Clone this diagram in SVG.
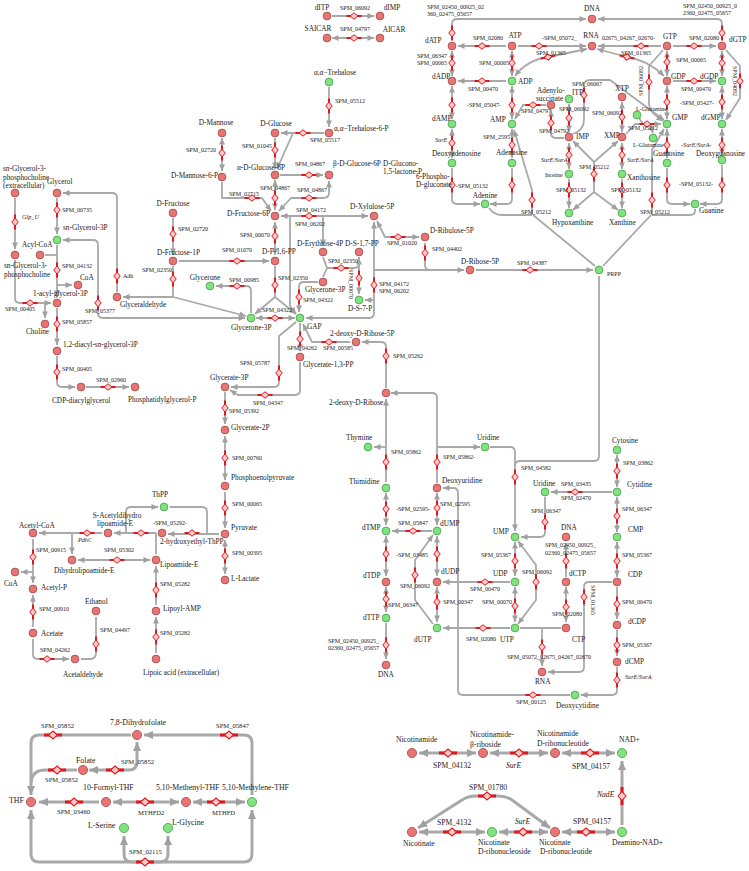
<svg xmlns="http://www.w3.org/2000/svg" width="749" height="871" viewBox="0 0 749 871">
<style>
.e{fill:none;stroke:#a9a9a9;stroke-width:1.8;stroke-linejoin:round}
.E{fill:none;stroke:#a9a9a9;stroke-width:3;stroke-linejoin:round}
.x{marker-end:url(#a)}
.xx{marker-start:url(#a);marker-end:url(#a)}
.X{marker-end:url(#A)}
.XX{marker-start:url(#A);marker-end:url(#A)}
.r{fill:#ea7474;stroke:#9c4a4a;stroke-width:.8}
.g{fill:#7fe37f;stroke:#4a9c4a;stroke-width:.8}
text{font-family:"Liberation Serif","Times New Roman",serif;fill:#1a1a1a}
.n{font-size:7.3px}
.s{font-size:6px}
.i{font-size:6.2px;font-style:italic}
.b{font-size:7.8px}
.bs{font-size:6.6px}
.c{font-size:7.6px}
</style>
<defs>
<marker id="a" viewBox="0 0 10 10" refX="10" refY="5" markerWidth="7" markerHeight="6.5" markerUnits="userSpaceOnUse" orient="auto-start-reverse"><path d="M0,0.5L10,5L0,9.5z" fill="#a0a0a0"/></marker>
<marker id="A" viewBox="0 0 10 10" refX="10" refY="5" markerWidth="10" markerHeight="9" markerUnits="userSpaceOnUse" orient="auto-start-reverse"><path d="M0,0.5L10,5L0,9.5z" fill="#a0a0a0"/></marker>
<g id="dh"><path d="M-7.5,0H7.5" stroke="#e3161c" stroke-width="2"/><path d="M0,-3.2L4,0L0,3.2L-4,0Z" fill="#f7caca" stroke="#e3161c" stroke-width="1"/></g>
<g id="dv"><path d="M0,-7.5V7.5" stroke="#e3161c" stroke-width="2"/><path d="M-3.2,0L0,-4L3.2,0L0,4Z" fill="#f7caca" stroke="#e3161c" stroke-width="1"/></g>
<g id="DH"><path d="M-9,0H9" stroke="#e3161c" stroke-width="3"/><path d="M0,-4L4.5,0L0,4L-4.5,0Z" fill="#f7caca" stroke="#e3161c" stroke-width="1.1"/></g>
<g id="DV"><path d="M0,-9V9" stroke="#e3161c" stroke-width="3"/><path d="M-4,0L0,-4.5L4,0L0,4.5Z" fill="#f7caca" stroke="#e3161c" stroke-width="1.1"/></g>
</defs>
<rect width="749" height="871" fill="#fff"/>

<g id="connectors">
<path class="e x" d="M332,16H374"/>
<path class="e xx" d="M332,38H374"/>
<path class="e x" d="M329,87V127"/>
<path class="e x" d="M324,133H281"/>
<path class="e x" d="M293,133L277,169"/>
<path class="e x" d="M275,138V169"/>
<path class="e xx" d="M222,138V171"/>
<path class="e x" d="M222,182V198H262L271,211"/>
<path class="e x" d="M280,175H323"/>
<path class="e xx" d="M275,180V210"/>
<path class="e xx" d="M329,181V193Q329,198 323,198H291L279,211"/>
<path class="e xx" d="M281,216H368"/>
<path class="e x" d="M290,216V306L296,314"/>
<path class="e x" d="M323,216V246"/>
<path class="e xx" d="M275,222V255"/>
<path class="e x" d="M173,218V255"/>
<path class="e x" d="M179,261H269"/>
<path class="e" d="M173,266V297"/>
<path class="e x" d="M173,297H123"/>
<path class="e x" d="M173,297L246,316"/>
<path class="e" d="M275,266V297"/>
<path class="e x" d="M275,297L255,314"/>
<path class="e x" d="M275,297L296,314"/>
<path class="e xx" d="M256,318H295"/>
<path class="e x" d="M251,313V291Q251,286 246,286H216"/>
<path class="e xx" d="M63,240H93Q98,240 98,245V313Q98,318 103,318H245"/>
<path class="e x" d="M117,292V198Q117,193 112,193H63"/>
<path class="e x" d="M57,198V234"/>
<path class="e x" d="M15,198V249"/>
<path class="e x" d="M57,245V297"/>
<path class="e" d="M45,255H57"/>
<path class="e x" d="M57,285H72"/>
<path class="e x" d="M15,260V298Q15,303 20,303H51"/>
<path class="e x" d="M45,303V318"/>
<path class="e x" d="M57,308V345"/>
<path class="e x" d="M57,356V382Q57,387 62,387H75"/>
<path class="e x" d="M86,387H129"/>
<path class="e" d="M323,257L327,268M323,277L327,268"/>
<path class="e x" d="M327,268H354Q359,268 359,263V258"/>
<path class="e x" d="M359,257V294"/>
<path class="e xx" d="M374,222V313Q374,318 369,318H306"/>
<path class="e x" d="M374,300H365"/>
<path class="e x" d="M374,270H464"/>
<path class="e xx" d="M377,221L385,237H419"/>
<path class="e" d="M425,243V265Q425,270 430,270"/>
<path class="e x" d="M476,270H593"/>
<path class="e x" d="M318,282H304Q299,282 299,287V312"/>
<path class="e x" d="M300,323V351"/>
<path class="e x" d="M300,362V390Q300,395 295,395H238L230,390"/>
<path class="e x" d="M296,322L279,336V382Q279,387 274,387H231"/>
<path class="e x" d="M225,392V424"/>
<path class="e xx" d="M225,436V480"/>
<path class="e x" d="M225,492V528"/>
<path class="e xx" d="M225,540V574"/>
<path class="e x" d="M219,534H168"/>
<path class="e" d="M207,534V512Q207,507 202,507H170"/>
<path class="e x" d="M126,533V512Q126,507 131,507H158"/>
<path class="e x" d="M156,533H114"/>
<path class="e" d="M156,554V533"/>
<path class="e x" d="M102,533H39"/>
<path class="e x" d="M72,533V554"/>
<path class="e xx" d="M78,560H150"/>
<path class="e x" d="M156,605V566"/>
<path class="e x" d="M156,653V617"/>
<path class="e x" d="M33,539V583"/>
<path class="e x" d="M33,572H21"/>
<path class="e x" d="M33,627V595"/>
<path class="e x" d="M33,639V654Q33,659 38,659H69"/>
<path class="e" d="M96,617V653Q96,659 90,659H81"/>
<path class="e x" d="M452,40V24Q452,19 457,19H586"/>
<path class="e x" d="M722,40V24Q722,19 717,19H598"/>
<path class="e x" d="M506,46H458"/>
<path class="e x" d="M518,46H586"/>
<path class="e x" d="M661,46H598"/>
<path class="e x" d="M673,46H716"/>
<path class="e xx" d="M515,76Q527,60 548,57L587,49"/>
<path class="e xx" d="M597,49L627,57Q648,60 664,76"/>
<path class="e xx" d="M452,51V76"/>
<path class="e xx" d="M512,51V76"/>
<path class="e xx" d="M667,51V76"/>
<path class="e xx" d="M722,51V76"/>
<path class="e x" d="M506,81H458"/>
<path class="e x" d="M673,81H716"/>
<path class="e xx" d="M452,86V119"/>
<path class="e xx" d="M512,86V119"/>
<path class="e xx" d="M667,86V119"/>
<path class="e xx" d="M722,86V119"/>
<path class="e x" d="M726,50L740,66V98L726,120"/>
<path class="e x" d="M663,50L649,66V104Q649,112 663,121"/>
<path class="e x" d="M546,105H523L515,119"/>
<path class="e x" d="M564,138H556Q551,138 551,133V110"/>
<path class="e xx" d="M569,104V132"/>
<path class="e x" d="M573,134Q584,130 584,120V86Q584,80 590,80H610L664,120"/>
<path class="e xx" d="M622,102V132"/>
<path class="e x" d="M626,134L635,124H661"/>
<path class="e" d="M639,118L643,124"/>
<path class="e x" d="M650,124L653,133"/>
<path class="e xx" d="M569,143V169"/>
<path class="e x" d="M569,179V208"/>
<path class="e xx" d="M622,143V169"/>
<path class="e x" d="M622,179V208"/>
<path class="e xx" d="M667,129V158"/>
<path class="e xx" d="M722,129V155"/>
<path class="e x" d="M667,168V199Q667,204 672,204H690"/>
<path class="e x" d="M722,165V199Q722,204 717,204H700"/>
<path class="e" d="M603,266L651,215"/>
<path class="e" d="M695,209V211Q695,215 690,215H652"/>
<path class="e x" d="M652,215V150L664,129"/>
<path class="e" d="M595,266L533,215"/>
<path class="e" d="M489,208Q494,215 502,215H532"/>
<path class="e x" d="M532,215V190L514,130"/>
<path class="e x" d="M512,168V199Q512,204 507,204H490"/>
<path class="e x" d="M452,168V199Q452,204 457,204H480"/>
<path class="e xx" d="M452,129V158"/>
<path class="e xx" d="M512,129V158"/>
<path class="e x" d="M594,162L573,141"/>
<path class="e x" d="M594,162L618,141"/>
<path class="e" d="M594,162V192"/>
<path class="e x" d="M594,192L573,210"/>
<path class="e x" d="M594,192L618,210"/>
<path class="e" d="M599,276V456Q599,461 594,461H520Q515,461 515,466"/>
<path class="e x" d="M490,447H510Q515,447 515,452V531"/>
<path class="e x" d="M437,447H480"/>
<path class="e x" d="M437,483V398Q437,393 432,393H391"/>
<path class="e x" d="M386,482V399"/>
<path class="e x" d="M386,447H374"/>
<path class="e x" d="M386,388V347Q386,342 381,342H362"/>
<path class="e x" d="M350,342H312L303,324"/>
<path class="e xx" d="M386,493V525"/>
<path class="e xx" d="M437,493V525"/>
<path class="e x" d="M432,531H392"/>
<path class="e xx" d="M386,536V576"/>
<path class="e xx" d="M437,536V576"/>
<path class="e xx" d="M386,587V612"/>
<path class="e xx" d="M437,587V622"/>
<path class="e x" d="M433,624L415,600V560L433,535"/>
<path class="e x" d="M386,623V659"/>
<path class="e x" d="M510,582H443"/>
<path class="e x" d="M510,628H443"/>
<path class="e xx" d="M515,542V576"/>
<path class="e xx" d="M515,587V622"/>
<path class="e xx" d="M518,541L536,565V600L518,624"/>
<path class="e x" d="M545,497V532Q545,537 540,537H521"/>
<path class="e x" d="M612,492H551"/>
<path class="e xx" d="M617,455V487"/>
<path class="e xx" d="M617,497V532"/>
<path class="e xx" d="M617,542V577"/>
<path class="e x" d="M617,587V619"/>
<path class="e x" d="M617,630V656"/>
<path class="e x" d="M617,667V690Q617,695 612,695H581"/>
<path class="e x" d="M570,695H463Q458,695 458,690V493Q458,488 453,488H443"/>
<path class="e x" d="M612,582H589Q584,582 584,587V667Q584,672 579,672H548"/>
<path class="e x" d="M566,577V543"/>
<path class="e xx" d="M566,587V622"/>
<path class="e" d="M520,628H561"/>
<path class="e x" d="M542,628V666"/>
<path class="E X" d="M131,735H39Q31,735 31,743V795"/>
<path class="E X" d="M252,795V743Q252,735 244,735H144"/>
<path class="E XX" d="M137,742V762Q137,770 129,770H89"/>
<path class="E" d="M77,770H45Q32,770 31,783"/>
<path class="E X" d="M99,802H39"/>
<path class="E XX" d="M113,802H179"/>
<path class="E XX" d="M193,802H245"/>
<path class="E X" d="M145,862H39Q31,862 31,854V810"/>
<path class="E X" d="M145,862H244Q252,862 252,854V810"/>
<path class="E X" d="M140,862H132Q124,862 124,854V836"/>
<path class="E X" d="M150,862H160Q168,862 168,854V836"/>
<path class="E XX" d="M419,753H476"/>
<path class="E XX" d="M490,753H548"/>
<path class="E XX" d="M562,753H615"/>
<path class="E X" d="M622,825V761"/>
<path class="E XX" d="M419,832H485"/>
<path class="E XX" d="M499,832H548"/>
<path class="E XX" d="M562,832H615"/>
<path class="E XX" d="M418,828L462,800Q468,796 476,796H498Q506,796 512,800L550,828"/>
</g>

<g id="reactions">
<use href="#dh" x="354" y="16"/><use href="#dh" x="354" y="38"/><use href="#dv" x="329" y="106"/><use href="#dh" x="303" y="133"/>
<use href="#dv" x="275" y="150"/><use href="#dv" x="222" y="153"/><use href="#dh" x="252" y="198"/><use href="#dh" x="309" y="175"/>
<use href="#dv" x="275" y="198"/><use href="#dh" x="309" y="198"/><use href="#dh" x="309" y="216"/><use href="#dv" x="275" y="236"/>
<use href="#dv" x="173" y="234"/><use href="#dh" x="237" y="261"/><use href="#dv" x="173" y="279"/><use href="#dv" x="275" y="285"/>
<use href="#dh" x="275" y="318"/><use href="#dh" x="237" y="286"/><use href="#dv" x="98" y="303"/><use href="#dv" x="117" y="276"/>
<use href="#dv" x="57" y="210"/><use href="#dv" x="15" y="222"/><use href="#dv" x="57" y="270"/><use href="#dh" x="30" y="303"/>
<use href="#dv" x="57" y="324"/><use href="#dv" x="57" y="372"/><use href="#dh" x="108" y="387"/>
<use href="#dh" x="341" y="268"/><use href="#dv" x="359" y="278"/><use href="#dv" x="374" y="285"/><use href="#dh" x="398" y="237"/>
<use href="#dv" x="425" y="253"/><use href="#dh" x="530" y="270"/><use href="#dv" x="299" y="297"/><use href="#dv" x="300" y="339"/>
<use href="#dh" x="265" y="395"/><use href="#dv" x="279" y="373"/><use href="#dv" x="225" y="408"/><use href="#dv" x="225" y="458"/>
<use href="#dv" x="225" y="508"/><use href="#dv" x="225" y="556"/><use href="#dh" x="192" y="533"/><use href="#dh" x="141" y="533"/>
<use href="#dh" x="87" y="533"/><use href="#dh" x="117" y="560"/><use href="#dv" x="156" y="590"/><use href="#dv" x="156" y="637"/>
<use href="#dv" x="33" y="557"/><use href="#dv" x="33" y="612"/><use href="#dh" x="47" y="659"/><use href="#dv" x="96" y="644"/>
<use href="#dv" x="452" y="33"/><use href="#dv" x="722" y="33"/><use href="#dh" x="482" y="46"/><use href="#dh" x="539" y="46"/>
<use href="#dh" x="641" y="46"/><use href="#dh" x="694" y="46"/>
<use href="#dh" transform="translate(548,57) rotate(-12)"/><use href="#dh" transform="translate(627,57) rotate(12)"/>
<use href="#dv" x="452" y="63"/><use href="#dv" x="512" y="63"/><use href="#dv" x="667" y="62"/><use href="#dv" x="722" y="63"/>
<use href="#dh" x="482" y="81"/><use href="#dh" x="694" y="81"/><use href="#dv" x="452" y="105"/><use href="#dv" x="512" y="105"/>
<use href="#dv" x="667" y="102"/><use href="#dv" x="722" y="102"/><use href="#dv" x="740" y="81"/><use href="#dv" x="649" y="82"/>
<use href="#dh" x="533" y="105"/><use href="#dv" x="551" y="123"/><use href="#dv" x="569" y="118"/><use href="#dv" x="584" y="95"/>
<use href="#dv" x="622" y="117"/><use href="#dh" x="647" y="124"/><use href="#dv" x="569" y="155"/><use href="#dv" x="569" y="190"/>
<use href="#dv" x="622" y="155"/><use href="#dv" x="622" y="190"/><use href="#dv" x="667" y="145"/><use href="#dv" x="722" y="145"/>
<use href="#dv" x="667" y="185"/><use href="#dv" x="722" y="185"/><use href="#dv" x="652" y="200"/><use href="#dv" x="532" y="200"/>
<use href="#dv" x="512" y="185"/><use href="#dv" x="452" y="185"/><use href="#dv" x="452" y="143"/><use href="#dv" x="512" y="145"/>
<use href="#dv" x="594" y="174"/>
<use href="#dv" x="515" y="477"/><use href="#dv" x="437" y="462"/><use href="#dv" x="386" y="462"/><use href="#dv" x="386" y="356"/>
<use href="#dh" x="329" y="342"/><use href="#dv" x="386" y="509"/><use href="#dv" x="437" y="508"/><use href="#dh" x="413" y="531"/>
<use href="#dv" x="386" y="554"/><use href="#dv" x="437" y="554"/><use href="#dv" x="386" y="599"/><use href="#dv" x="437" y="602"/>
<use href="#dv" x="415" y="575"/><use href="#dv" x="386" y="645"/><use href="#dh" x="485" y="582"/><use href="#dh" x="483" y="628"/>
<use href="#dv" x="515" y="561"/><use href="#dv" x="515" y="606"/><use href="#dv" x="536" y="582"/><use href="#dv" x="545" y="522"/>
<use href="#dh" x="575" y="492"/><use href="#dv" x="617" y="471"/><use href="#dv" x="617" y="516"/><use href="#dv" x="617" y="561"/>
<use href="#dv" x="617" y="604"/><use href="#dv" x="617" y="645"/><use href="#dv" x="617" y="680"/><use href="#dh" x="533" y="695"/>
<use href="#dv" x="584" y="597"/><use href="#dv" x="566" y="561"/><use href="#dv" x="566" y="607"/><use href="#dv" x="542" y="647"/>
<use href="#DH" x="53" y="735"/><use href="#DH" x="229" y="735"/><use href="#DH" x="115" y="770"/><use href="#DH" x="57" y="770"/>
<use href="#DH" x="74" y="802"/><use href="#DH" x="145" y="802"/><use href="#DH" x="216" y="802"/><use href="#DH" x="145" y="862"/>
<use href="#DH" x="448" y="753"/><use href="#DH" x="519" y="753"/><use href="#DH" x="590" y="753"/><use href="#DV" x="622" y="796"/>
<use href="#DH" x="452" y="832"/><use href="#DH" x="523" y="832"/><use href="#DH" x="586" y="832"/><use href="#DH" x="487" y="796"/>
</g>

<g id="reaction-labels">
<text class="s" x="355" y="10" text-anchor="middle">SPM_06092</text>
<text class="s" x="355" y="31" text-anchor="middle">SPM_04797</text>
<text class="s" x="335" y="103">SPM_05512</text>
<text class="s" x="310" y="142">SPM_05517</text>
<text class="s" x="242" y="148">SPM_01045</text>
<text class="s" x="295" y="166">SPM_04867</text>
<text class="s" x="260" y="190">SPM_04867</text>
<text class="s" x="229" y="196">SPM_02715</text>
<text class="s" x="297" y="192">SPM_04867</text>
<text class="s" x="186" y="152">SPM_02720</text>
<text class="s" x="178" y="231">SPM_02720</text>
<text class="s" x="222" y="252">SPM_01070</text>
<text class="s" x="296" y="212">SPM_04172</text>
<text class="s" x="295" y="226">SPM_06202</text>
<text class="s" x="387" y="245">SPM_01020</text>
<text class="s" x="432" y="251">SPM_04402</text>
<text class="s" x="517" y="265">SPM_04387</text>
<text class="s" x="240" y="237">SPM_00070</text>
<text class="s" x="229" y="282">SPM_00985</text>
<text class="s" x="142" y="272">SPM_02350</text>
<text class="s" x="123" y="278">Adh</text>
<text class="s" x="278" y="280">SPM_02350</text>
<text class="s" x="262" y="312">SPM_04322</text>
<text class="s" x="328" y="263">SPM_02350</text>
<text class="s" x="303" y="302">SPM_04322</text>
<text class="s" transform="translate(349,284) rotate(90)" text-anchor="middle">SPM_00070</text>
<text class="s" x="379" y="286">SPM_04172</text>
<text class="s" x="379" y="293">SPM_06202</text>
<text class="s" x="323" y="350">SPM_00585</text>
<text class="s" x="287" y="350">SPM_04262</text>
<text class="s" x="393" y="358">SPM_05262</text>
<text class="s" x="240" y="365">SPM_05787</text>
<text class="s" x="253" y="405">SPM_04347</text>
<text class="s" x="229" y="413">SPM_05392</text>
<text class="s" x="232" y="460">SPM_00760</text>
<text class="s" x="232" y="506">SPM_00065</text>
<text class="s" x="232" y="555">SPM_00395</text>
<text class="s" x="153" y="525">-SPM_05292-</text>
<text class="i" x="78" y="542">PdhC</text>
<text class="s" x="36" y="552">SPM_00915</text>
<text class="s" x="104" y="552">SPM_05302</text>
<text class="s" x="160" y="586">SPM_05282</text>
<text class="s" x="39" y="611">SPM_00910</text>
<text class="s" x="40" y="652">SPM_04262</text>
<text class="s" x="100" y="632">SPM_04497</text>
<text class="s" x="160" y="635">SPM_05282</text>
<text class="s" x="62" y="212">SPM_00735</text>
<text class="i" x="22" y="219">Glp_U</text>
<text class="s" x="62" y="268">SPM_04132</text>
<text class="s" x="5" y="311">SPM_00405</text>
<text class="s" x="85" y="313">SPM_05377</text>
<text class="s" x="62" y="324">SPM_05857</text>
<text class="s" x="62" y="371">SPM_00405</text>
<text class="s" x="96" y="382">SPM_02960</text>
<text class="s" x="427" y="9">SPM_02450_00925_02</text>
<text class="s" x="427" y="16">360_02475_05657</text>
<text class="s" x="683" y="8">SPM_02450_00925_0</text>
<text class="s" x="683" y="15">2360_02475_05657</text>
<text class="s" x="473" y="40">SPM_02080</text>
<text class="s" x="542" y="40">-SPM_05072_</text>
<text class="s" x="602" y="40">02675_04267_02670-</text>
<text class="s" x="689" y="40">SPM_02080</text>
<text class="s" x="536" y="55">SPM_01365</text>
<text class="s" x="621" y="55">SPM_01365</text>
<text class="s" x="417" y="58">SPM_06347</text>
<text class="s" x="417" y="65">SPM_00065</text>
<text class="s" x="479" y="65">SPM_00065</text>
<text class="s" x="676" y="62">SPM_00065</text>
<text class="s" x="468" y="91">SPM_00470</text>
<text class="s" x="681" y="91">SPM_00470</text>
<text class="s" x="467" y="107">-SPM_05047-</text>
<text class="s" x="680" y="105">-SPM_05427-</text>
<text class="s" transform="translate(643,81) rotate(-90)" text-anchor="middle">SPM_06092</text>
<text class="s" transform="translate(733,81) rotate(90)" text-anchor="middle">SPM_04092</text>
<text class="s" x="572" y="86">SPM_06067</text>
<text class="s" x="521" y="113">SPM_04797</text>
<text class="s" x="559" y="111">SPM_06092</text>
<text class="s" x="592" y="115">SPM_06092</text>
<text class="s" x="539" y="133">SPM_04792</text>
<text class="s" x="628" y="130">SPM_05212</text>
<text class="i" x="435" y="142">SurE</text>
<text class="s" x="483" y="139">SPM_2595</text>
<text class="i" x="541" y="162">SurE/SurA</text>
<text class="i" x="627" y="162">SurE/SurA</text>
<text class="i" x="681" y="147">-SurE/SurA-</text>
<text class="s" x="579" y="169">SPM_05212</text>
<text class="s" x="556" y="192">SPM_05132</text>
<text class="s" x="611" y="192">SPM_05132</text>
<text class="s" x="679" y="186">-SPM_05132-</text>
<text class="s" x="456" y="188">-SPM_05132</text>
<text class="s" x="521" y="214">SPM_05212</text>
<text class="s" x="640" y="214">SPM_05212</text>
<text class="s" x="391" y="454">SPM_05862</text>
<text class="s" x="443" y="459">SPM_05862-</text>
<text class="s" x="396" y="511">-SPM_02595-</text>
<text class="s" x="440" y="506">SPM_02595</text>
<text class="s" x="398" y="525">SPM_05847</text>
<text class="s" x="396" y="557">-SPM_03485</text>
<text class="s" x="400" y="588">SPM_06092</text>
<text class="s" x="470" y="591">SPM_00470</text>
<text class="s" x="388" y="607">SPM_06347</text>
<text class="s" x="443" y="604">SPM_00347</text>
<text class="s" x="482" y="604">SPM_00070</text>
<text class="s" x="466" y="641">SPM_02080</text>
<text class="s" x="481" y="557">SPM_05367</text>
<text class="s" x="521" y="470">SPM_04582</text>
<text class="s" x="561" y="486">SPM_03435</text>
<text class="s" x="561" y="500">SPM_02470</text>
<text class="s" x="531" y="513">SPM_06347</text>
<text class="s" x="545" y="547">SPM_02450_00925_</text>
<text class="s" x="545" y="555">02360_02475_05657</text>
<text class="s" x="522" y="574">SPM_06092</text>
<text class="s" x="552" y="616">SPM_02080</text>
<text class="s" transform="translate(591,600) rotate(90)" text-anchor="middle">SPM_01365</text>
<text class="s" x="623" y="465">SPM_03862</text>
<text class="s" x="622" y="511">SPM_06347</text>
<text class="s" x="622" y="557">SPM_05367</text>
<text class="s" x="622" y="604">SPM_00470</text>
<text class="s" x="622" y="647">SPM_05367</text>
<text class="i" x="625" y="679">SurE/SurA</text>
<text class="s" x="516" y="704">SPM_00125</text>
<text class="s" x="507" y="659">SPM_05072_02675_04267_02670</text>
<text class="s" x="328" y="643">SPM_02450_00925_</text>
<text class="s" x="328" y="650">02360_02475_05657</text>
<text class="bs" x="41" y="728">SPM_05852</text>
<text class="bs" x="216" y="728">SPM_05847</text>
<text class="bs" x="121" y="764">SPM_05852</text>
<text class="bs" x="45" y="782">SPM_05852</text>
<text class="bs" x="57" y="814">SPM_03460</text>
<text class="bs" x="138" y="815">MTHFD2</text>
<text class="bs" x="212" y="815">MTHFD</text>
<text class="bs" x="129" y="854">SPM_02115</text>
<text class="c" x="433" y="768">SPM_04132</text>
<text class="c" x="506" y="768" font-style="italic">SurE</text>
<text class="c" x="572" y="769">SPM_04157</text>
<text class="c" x="597" y="797" font-style="italic">NadE</text>
<text class="c" x="469" y="790">SPM_01780</text>
<text class="c" x="437" y="825">SPM_4132</text>
<text class="c" x="515" y="824" font-style="italic">SurE</text>
<text class="c" x="573" y="824">SPM_04157</text>
<text class="n" x="383" y="166">D-Glucono-</text>
<text class="n" x="383" y="174">1,5-lactone-P</text>
<text class="n" x="416" y="179">6-Phospho-</text>
<text class="n" x="416" y="187">D-gluconate</text>
</g>

<g id="nodes">
<g id="n-dITP"><circle class="r" cx="327" cy="16" r="3.9"/><text class="n" x="322" y="10" text-anchor="middle">dITP</text></g>
<g id="n-dIMP"><circle class="r" cx="380" cy="16" r="3.9"/><text class="n" x="392" y="10" text-anchor="middle">dIMP</text></g>
<g id="n-SAICAR"><circle class="r" cx="327" cy="38" r="3.9"/><text class="n" x="318" y="31" text-anchor="middle">SAICAR</text></g>
<g id="n-AICAR"><circle class="r" cx="380" cy="38" r="3.9"/><text class="n" x="394" y="32" text-anchor="middle">AICAR</text></g>
<g id="n-trehalose"><circle class="g" cx="329" cy="82" r="3.9"/><text class="n" x="335" y="75" text-anchor="middle">α,α−Trehalose</text></g>
<g id="n-trehalose6p"><circle class="r" cx="329" cy="133" r="3.9"/><text class="n" x="334" y="131">α,α−Trehalose-6-P</text></g>
<g id="n-glucose"><circle class="r" cx="275" cy="133" r="3.9"/><text class="n" x="276" y="126" text-anchor="middle">D-Glucose</text></g>
<g id="n-mannose"><circle class="r" cx="222" cy="133" r="3.9"/><text class="n" x="216" y="125" text-anchor="middle">D-Mannose</text></g>
<g id="n-mannose6p"><circle class="r" cx="222" cy="177" r="3.9"/><text class="n" x="171" y="178">D-Mannose-6-P</text></g>
<g id="n-aglc6p"><circle class="r" cx="275" cy="175" r="3.9"/><text class="n" x="237" y="170">α-D-Glucose-6P</text></g>
<g id="n-bglc6p"><circle class="r" cx="329" cy="175" r="3.9"/><text class="n" x="333" y="166">β-D-Glucose-6P</text></g>
<g id="n-f6p"><circle class="r" cx="275" cy="216" r="3.9"/><text class="n" x="227" y="216">D-Fructose-6P</text></g>
<g id="n-xyl5p"><circle class="r" cx="374" cy="216" r="3.9"/><text class="n" x="350" y="209">D-Xylulose-5P</text></g>
<g id="n-ribu5p"><circle class="r" cx="425" cy="237" r="3.9"/><text class="n" x="430" y="233">D-Ribulose-5P</text></g>
<g id="n-rib5p"><circle class="r" cx="470" cy="270" r="3.9"/><text class="n" x="461" y="264">D-Ribose-5P</text></g>
<g id="n-prpp"><circle class="g" cx="599" cy="270" r="3.9"/><text class="s" x="607" y="276">PRPP</text></g>
<g id="n-fructose"><circle class="r" cx="173" cy="213" r="3.9"/><text class="n" x="173" y="206" text-anchor="middle">D-Fructose</text></g>
<g id="n-f1p"><circle class="r" cx="173" cy="261" r="3.9"/><text class="n" x="157" y="255">D-Fructose-1P</text></g>
<g id="n-f16pp"><circle class="r" cx="275" cy="261" r="3.9"/><text class="n" x="262" y="254">D-F-1,6-PP</text></g>
<g id="n-glyceraldehyde"><circle class="r" cx="117" cy="297" r="3.9"/><text class="n" x="120" y="307">Glyceraldehyde</text></g>
<g id="n-glycerone"><circle class="g" cx="210" cy="286" r="3.9"/><text class="n" x="205" y="280" text-anchor="middle">Glycerone</text></g>
<g id="n-dhap1"><circle class="g" cx="251" cy="318" r="3.9"/><text class="n" x="231" y="330">Glycerone-3P</text></g>
<g id="n-gap"><circle class="g" cx="300" cy="318" r="3.9"/><text class="n" x="307" y="329">GAP</text></g>
<g id="n-e4p"><circle class="r" cx="323" cy="252" r="3.9"/><text class="n" x="297" y="246">D-Erythrose-4P</text></g>
<g id="n-s17pp"><circle class="r" cx="359" cy="252" r="3.9"/><text class="n" x="345" y="246">D-S-1,7-PP</text></g>
<g id="n-dhap2"><circle class="r" cx="323" cy="282" r="3.9"/><text class="n" x="305" y="292">Glycerone-3P</text></g>
<g id="n-s7p"><circle class="g" cx="359" cy="300" r="3.9"/><text class="n" x="348" y="311">D-S-7-P</text></g>
<g id="n-dr5p"><circle class="r" cx="356" cy="342" r="3.9"/><text class="n" x="330" y="336">2-deoxy-D-Ribose-5P</text></g>
<g id="n-bpg"><circle class="r" cx="300" cy="357" r="3.9"/><text class="n" x="303" y="367">Glycerate-1,3-PP</text></g>
<g id="n-dribose"><circle class="r" cx="386" cy="393" r="3.9"/><text class="n" x="329" y="405">2-deoxy-D-Ribose</text></g>
<g id="n-3pg"><circle class="r" cx="225" cy="387" r="3.9"/><text class="n" x="210" y="380">Glycerate-3P</text></g>
<g id="n-2pg"><circle class="r" cx="225" cy="430" r="3.9"/><text class="n" x="231" y="430">Glycerate-2P</text></g>
<g id="n-pep"><circle class="r" cx="225" cy="486" r="3.9"/><text class="n" x="231" y="480">Phosphoenolpyruvate</text></g>
<g id="n-pyruvate"><circle class="r" cx="225" cy="534" r="3.9"/><text class="n" x="231" y="530">Pyruvate</text></g>
<g id="n-lactate"><circle class="r" cx="225" cy="580" r="3.9"/><text class="n" x="231" y="581">L-Lactate</text></g>
<g id="n-thpp"><circle class="g" cx="164" cy="507" r="3.9"/><text class="n" x="160" y="497" text-anchor="middle">ThPP</text></g>
<g id="n-hethpp"><circle class="r" cx="162" cy="533" r="3.9"/><text class="n" x="160" y="544">2-hydroxyethyl-ThPP</text></g>
<g id="n-sacetyl"><circle class="r" cx="108" cy="533" r="3.9"/><text class="n" x="117" y="518" text-anchor="middle">S-Acetyldihydro</text><text class="n" x="115" y="526" text-anchor="middle">lipoamide-E</text></g>
<g id="n-acetylcoa"><circle class="r" cx="33" cy="533" r="3.9"/><text class="n" x="19" y="528">Acetyl-CoA</text></g>
<g id="n-dihydrolipo"><circle class="r" cx="72" cy="560" r="3.9"/><text class="n" x="54" y="573">Dihydrolipoamide-E</text></g>
<g id="n-lipoamide"><circle class="r" cx="156" cy="560" r="3.9"/><text class="n" x="160" y="567">Lipoamide-E</text></g>
<g id="n-lipoylamp"><circle class="r" cx="156" cy="611" r="3.9"/><text class="n" x="163" y="611">Lipoyl-AMP</text></g>
<g id="n-lipoic"><circle class="r" cx="156" cy="659" r="3.9"/><text class="n" x="143" y="675">Lipoic acid (extracellular)</text></g>
<g id="n-coa2"><circle class="r" cx="15" cy="572" r="3.9"/><text class="n" x="4" y="586">CoA</text></g>
<g id="n-acetylp"><circle class="r" cx="33" cy="589" r="3.9"/><text class="n" x="41" y="590">Acetyl-P</text></g>
<g id="n-acetate"><circle class="r" cx="33" cy="633" r="3.9"/><text class="n" x="41" y="636">Acetate</text></g>
<g id="n-acetaldehyde"><circle class="r" cx="75" cy="659" r="3.9"/><text class="n" x="63" y="677">Acetaldehyde</text></g>
<g id="n-ethanol"><circle class="r" cx="96" cy="611" r="3.9"/><text class="n" x="85" y="604">Ethanol</text></g>
<g id="n-g3pc-ext"><circle class="r" cx="15" cy="193" r="3.9"/><text class="n" x="3" y="171">sn-Glycerol-3-</text><text class="n" x="3" y="179.5">phosphocholine</text><text class="n" x="3" y="188">(extracellular)</text></g>
<g id="n-glycerol"><circle class="r" cx="57" cy="193" r="3.9"/><text class="n" x="47" y="184">Glycerol</text></g>
<g id="n-g3p"><circle class="g" cx="57" cy="240" r="3.9"/><text class="n" x="63" y="230">sn-Glycerol-3P</text></g>
<g id="n-acylcoa"><circle class="r" cx="40" cy="255" r="3.9"/><text class="n" x="22" y="247">Acyl-CoA</text></g>
<g id="n-g3pc"><circle class="r" cx="15" cy="255" r="3.9"/><text class="n" x="4" y="268">sn-Glycerol-3-</text><text class="n" x="4" y="277">phosphocholine</text></g>
<g id="n-coa"><circle class="r" cx="78" cy="285" r="3.9"/><text class="n" x="80" y="280">CoA</text></g>
<g id="n-acylg3p"><circle class="r" cx="57" cy="303" r="3.9"/><text class="n" x="33" y="296">1-acyl-glycerol-3P</text></g>
<g id="n-choline"><circle class="r" cx="45" cy="324" r="3.9"/><text class="n" x="26" y="334">Choline</text></g>
<g id="n-diacyl"><circle class="r" cx="57" cy="351" r="3.9"/><text class="n" x="63" y="347">1,2-diacyl-sn-glycerol-3P</text></g>
<g id="n-cdpdag"><circle class="r" cx="81" cy="387" r="3.9"/><text class="n" x="52" y="403">CDP-diacylglycerol</text></g>
<g id="n-pgp"><circle class="r" cx="135" cy="387" r="3.9"/><text class="n" x="128" y="402">Phosphatidylglycerol-P</text></g>
<g id="n-dna1"><circle class="r" cx="592" cy="19" r="3.9"/><text class="n" x="592" y="11" text-anchor="middle">DNA</text></g>
<g id="n-atp"><circle class="r" cx="512" cy="46" r="3.9"/><text class="n" x="515" y="38" text-anchor="middle">ATP</text></g>
<g id="n-datp"><circle class="r" cx="452" cy="46" r="3.9"/><text class="n" x="425" y="43">dATP</text></g>
<g id="n-rna1"><circle class="r" cx="592" cy="46" r="3.9"/><text class="n" x="591" y="38" text-anchor="middle">RNA</text></g>
<g id="n-gtp"><circle class="r" cx="667" cy="46" r="3.9"/><text class="n" x="670" y="39" text-anchor="middle">GTP</text></g>
<g id="n-dgtp"><circle class="r" cx="722" cy="46" r="3.9"/><text class="n" x="729" y="42">dGTP</text></g>
<g id="n-adp"><circle class="g" cx="512" cy="81" r="3.9"/><text class="n" x="518" y="84">ADP</text></g>
<g id="n-dadp"><circle class="r" cx="452" cy="81" r="3.9"/><text class="n" x="432" y="79">dADP</text></g>
<g id="n-gdp"><circle class="r" cx="667" cy="81" r="3.9"/><text class="n" x="671" y="79">GDP</text></g>
<g id="n-dgdp"><circle class="g" cx="722" cy="81" r="3.9"/><text class="n" x="700" y="79">dGDP</text></g>
<g id="n-damp"><circle class="g" cx="452" cy="124" r="3.9"/><text class="n" x="432" y="121">dAMP</text></g>
<g id="n-amp"><circle class="g" cx="512" cy="124" r="3.9"/><text class="n" x="490" y="122">AMP</text></g>
<g id="n-adenylosucc"><circle class="r" cx="551" cy="105" r="3.9"/><text class="n" x="537" y="93">Adenylo-</text><text class="n" x="536" y="101">succinate</text></g>
<g id="n-itp"><circle class="g" cx="569" cy="99" r="3.9"/><text class="n" x="572" y="95">ITP</text></g>
<g id="n-imp"><circle class="r" cx="569" cy="137" r="3.9"/><text class="n" x="576" y="139">IMP</text></g>
<g id="n-xtp"><circle class="r" cx="622" cy="97" r="3.9"/><text class="n" x="622" y="91" text-anchor="middle">XTP</text></g>
<g id="n-xmp"><circle class="r" cx="622" cy="137" r="3.9"/><text class="n" x="604" y="138">XMP</text></g>
<g id="n-gln"><circle class="g" cx="637" cy="115" r="3.9"/><text class="s" x="636" y="111">L-Glutamine</text></g>
<g id="n-glu"><circle class="g" cx="653" cy="138" r="3.9"/><text class="s" x="633" y="147">L-Glutamate</text></g>
<g id="n-gmp"><circle class="g" cx="667" cy="124" r="3.9"/><text class="n" x="672" y="120">GMP</text></g>
<g id="n-dgmp"><circle class="g" cx="722" cy="124" r="3.9"/><text class="n" x="701" y="120">dGMP</text></g>
<g id="n-dado"><circle class="g" cx="452" cy="163" r="3.9"/><text class="n" x="432" y="156">Deoxyadenosine</text></g>
<g id="n-ado"><circle class="g" cx="512" cy="163" r="3.9"/><text class="n" x="496" y="155">Adenosine</text></g>
<g id="n-ino"><circle class="g" cx="569" cy="174" r="3.9"/><text class="s" x="545" y="177">Inosine</text></g>
<g id="n-xao"><circle class="g" cx="622" cy="174" r="3.9"/><text class="n" x="627" y="180">Xanthosine</text></g>
<g id="n-guo"><circle class="g" cx="667" cy="163" r="3.9"/><text class="n" x="653" y="156">Guanosine</text></g>
<g id="n-dguo"><circle class="g" cx="722" cy="160" r="3.9"/><text class="n" x="696" y="156">Deoxyguanosine</text></g>
<g id="n-ade"><circle class="g" cx="485" cy="204" r="3.9"/><text class="n" x="485" y="198" text-anchor="middle">Adenine</text></g>
<g id="n-hyp"><circle class="g" cx="569" cy="213" r="3.9"/><text class="n" x="552" y="225">Hypoxanthine</text></g>
<g id="n-xan"><circle class="g" cx="622" cy="213" r="3.9"/><text class="n" x="609" y="225">Xanthine</text></g>
<g id="n-gua"><circle class="g" cx="695" cy="204" r="3.9"/><text class="n" x="699" y="213">Guanine</text></g>
<g id="n-thymine"><circle class="g" cx="368" cy="447" r="3.9"/><text class="n" x="346" y="440">Thymine</text></g>
<g id="n-thymidine"><circle class="g" cx="386" cy="488" r="3.9"/><text class="n" x="349" y="484">Thimidine</text></g>
<g id="n-dtmp"><circle class="g" cx="386" cy="531" r="3.9"/><text class="n" x="362" y="530">dTMP</text></g>
<g id="n-dtdp"><circle class="r" cx="386" cy="582" r="3.9"/><text class="n" x="363" y="578">dTDP</text></g>
<g id="n-dttp"><circle class="g" cx="386" cy="618" r="3.9"/><text class="n" x="363" y="620">dTTP</text></g>
<g id="n-dna2"><circle class="r" cx="386" cy="665" r="3.9"/><text class="n" x="378" y="677">DNA</text></g>
<g id="n-uridine1"><circle class="g" cx="485" cy="447" r="3.9"/><text class="n" x="477" y="440">Uridine</text></g>
<g id="n-dur"><circle class="r" cx="437" cy="488" r="3.9"/><text class="n" x="442" y="483">Deoxyuridine</text></g>
<g id="n-dump"><circle class="g" cx="437" cy="531" r="3.9"/><text class="n" x="440" y="526">dUMP</text></g>
<g id="n-dudp"><circle class="r" cx="437" cy="582" r="3.9"/><text class="n" x="441" y="574">dUDP</text></g>
<g id="n-dutp"><circle class="g" cx="437" cy="628" r="3.9"/><text class="n" x="414" y="642">dUTP</text></g>
<g id="n-ump"><circle class="g" cx="515" cy="537" r="3.9"/><text class="n" x="493" y="534">UMP</text></g>
<g id="n-udp"><circle class="g" cx="515" cy="582" r="3.9"/><text class="n" x="493" y="576">UDP</text></g>
<g id="n-utp"><circle class="g" cx="515" cy="628" r="3.9"/><text class="n" x="500" y="642">UTP</text></g>
<g id="n-uridine2"><circle class="g" cx="545" cy="492" r="3.9"/><text class="n" x="533" y="486">Uridine</text></g>
<g id="n-dna3"><circle class="r" cx="566" cy="537" r="3.9"/><text class="n" x="561" y="530">DNA</text></g>
<g id="n-dctp"><circle class="r" cx="566" cy="582" r="3.9"/><text class="n" x="569" y="576">dCTP</text></g>
<g id="n-ctp"><circle class="r" cx="566" cy="628" r="3.9"/><text class="n" x="572" y="642">CTP</text></g>
<g id="n-rna2"><circle class="r" cx="542" cy="672" r="3.9"/><text class="n" x="535" y="684">RNA</text></g>
<g id="n-cytosine"><circle class="g" cx="617" cy="450" r="3.9"/><text class="n" x="612" y="443">Cytosine</text></g>
<g id="n-cytidine"><circle class="g" cx="617" cy="492" r="3.9"/><text class="n" x="627" y="487">Cytidine</text></g>
<g id="n-cmp"><circle class="g" cx="617" cy="537" r="3.9"/><text class="n" x="628" y="532">CMP</text></g>
<g id="n-cdp"><circle class="r" cx="617" cy="582" r="3.9"/><text class="n" x="628" y="577">CDP</text></g>
<g id="n-dcdp"><circle class="r" cx="617" cy="625" r="3.9"/><text class="n" x="628" y="624">dCDP</text></g>
<g id="n-dcmp"><circle class="r" cx="617" cy="662" r="3.9"/><text class="n" x="625" y="664">dCMP</text></g>
<g id="n-dcyd"><circle class="g" cx="575" cy="695" r="3.9"/><text class="n" x="556" y="708">Deoxycytidine</text></g>
<g id="n-dhf"><circle class="r" cx="137" cy="735" r="4.6"/><text class="b" x="110" y="725">7,8-Dihydrofolate</text></g>
<g id="n-thf"><circle class="r" cx="31" cy="802" r="4.6"/><text class="b" x="9" y="803">THF</text></g>
<g id="n-folate"><circle class="r" cx="83" cy="770" r="4.6"/><text class="b" x="76" y="763">Folate</text></g>
<g id="n-formylthf"><circle class="r" cx="106" cy="802" r="4.6"/><text class="b" x="83" y="790">10-Formyl-THF</text></g>
<g id="n-methenylthf"><circle class="r" cx="186" cy="802" r="4.6"/><text class="b" x="156" y="790">5,10-Methenyl-THF</text></g>
<g id="n-methylenethf"><circle class="g" cx="252" cy="802" r="4.6"/><text class="b" x="222" y="790">5,10-Methylene-THF</text></g>
<g id="n-serine"><circle class="g" cx="124" cy="828" r="4.6"/><text class="b" x="88" y="828">L-Serine</text></g>
<g id="n-glycine"><circle class="g" cx="168" cy="828" r="4.6"/><text class="b" x="172" y="825">L-Glycine</text></g>
<g id="n-nicotinamide"><circle class="r" cx="412" cy="753" r="4.6"/><text class="c" x="396" y="742">Nicotinamide</text></g>
<g id="n-nr"><circle class="r" cx="483" cy="753" r="4.6"/><text class="c" x="470" y="737">Nicotinamide-</text><text class="c" x="470" y="747">β-riboside</text></g>
<g id="n-nmn"><circle class="r" cx="555" cy="753" r="4.6"/><text class="c" x="537" y="736">Nicotinamide</text><text class="c" x="537" y="746">D-ribonucleotide</text></g>
<g id="n-nad"><circle class="g" cx="622" cy="753" r="4.6"/><text class="c" x="619" y="742">NAD+</text></g>
<g id="n-nicotinate"><circle class="r" cx="412" cy="832" r="4.6"/><text class="c" x="403" y="846">Nicotinate</text></g>
<g id="n-nar"><circle class="g" cx="492" cy="832" r="4.6"/><text class="c" x="478" y="845">Nicotinate</text><text class="c" x="478" y="854">D-ribonucleoside</text></g>
<g id="n-namn"><circle class="r" cx="555" cy="832" r="4.6"/><text class="c" x="539" y="845">Nicotinate</text><text class="c" x="540" y="854">D-ribonucleotide</text></g>
<g id="n-deamidonad"><circle class="g" cx="622" cy="832" r="4.6"/><text class="c" x="612" y="845">Deamino-NAD+</text></g>
</g>
</svg>
